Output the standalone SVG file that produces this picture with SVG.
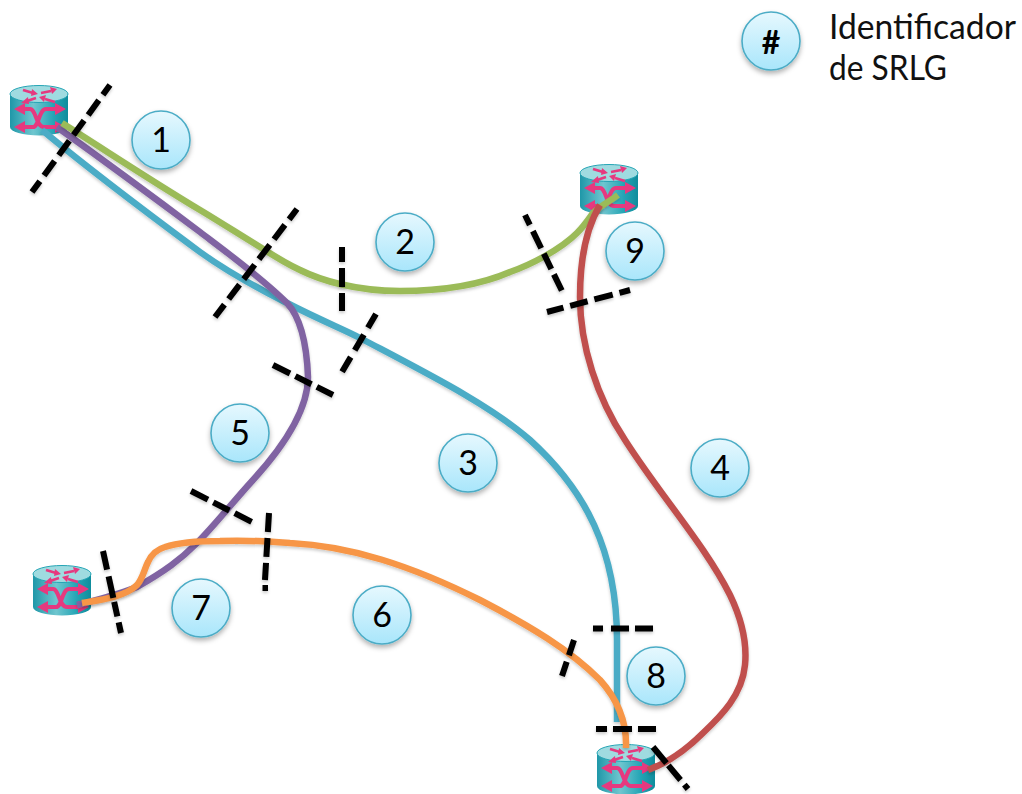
<svg xmlns="http://www.w3.org/2000/svg" xmlns:xlink="http://www.w3.org/1999/xlink" width="1022" height="794" viewBox="0 0 1022 794">
<style>
.lnk{fill:none;stroke-width:6.5;stroke-linecap:butt}
.cut{fill:none;stroke:#000;stroke-width:6}
.badge{fill:url(#bg);stroke:#4bacc6;stroke-width:1.6;filter:url(#sh)}
.num{font-family:"Lato","Open Sans",sans-serif;font-size:34px;fill:#000;text-anchor:middle}
.leg{font-family:"Lato","Open Sans",sans-serif;font-size:34px;fill:#111}
.ar{fill:#e6397f}
.as{fill:none;stroke:#e6397f;stroke-width:4}
.at{fill:none;stroke:#e6397f;stroke-width:2.6}
</style>
<defs>
<linearGradient id="bg" x1="0" y1="0" x2="0" y2="1"><stop offset="0" stop-color="#e6f8fe"/><stop offset="1" stop-color="#a9e6fb"/></linearGradient>
<linearGradient id="cyl" x1="0" y1="0" x2="1" y2="0"><stop offset="0" stop-color="#1f97a8"/><stop offset=".4" stop-color="#6fc6cf"/><stop offset=".75" stop-color="#25a5b5"/><stop offset="1" stop-color="#0f8c9c"/></linearGradient>
<filter id="sh" x="-20%" y="-20%" width="140%" height="140%"><feDropShadow dx="0" dy="3" stdDeviation="2.5" flood-color="#000" flood-opacity=".3"/></filter>
<filter id="ls" x="-5%" y="-5%" width="110%" height="110%"><feDropShadow dx="0" dy="2" stdDeviation="1.5" flood-color="#000" flood-opacity=".2"/></filter>
<g id="router">
<path d="M-29-16V17A29 8.5 0 0 0 29 17V-16Z" fill="url(#cyl)"/>
<ellipse cx="0" cy="-16" rx="29" ry="8.5" fill="#9fdbe0" stroke="#25a5b5"/>
<path class="at" d="M-16-20L-6-17M2-17L12-19M-3-12L-12-9M16-8L6-11"/>
<path class="ar" d="M-1-16L-7-21-8-14ZM18-21L11-23 13-16ZM-18-7L-11-13-10-6ZM0-13L7-15 5-8Z"/>
<path class="as" d="M-16-1H-9C-3-1-3 17 5 17H18M-16 17H-6C0 17 0-1 7-1H18"/>
<path class="ar" d="M-25-1l11-6v12zM27-1l-11-6v12zM-25 17l11-6v12zM27 17l-11-6v12z"/>
</g>
</defs>
<rect width="1022" height="794" fill="#fff"/>
<g id="r1"><use xlink:href="#router" href="#router" x="39" y="110"/></g>
<g id="r2"><use xlink:href="#router" href="#router" x="609" y="189"/></g>
<g id="r3"><use xlink:href="#router" href="#router" x="62" y="590"/></g>
<g id="r4"><use xlink:href="#router" href="#router" x="626" y="769"/></g>
<g id="connectors">
<path class="lnk" filter="url(#ls)" stroke="#4bacc6" d="M42 130C90 170 150 215 200 252C225 270 255 287 287 303C320 320 345 330 360 338C430 375 490 405 530 440C585 490 617 550 617 640V722"/>
<path class="lnk" filter="url(#ls)" stroke="#8064a2" d="M57 127C110 165 160 202 200 232C225 251 262 278 287 303C303 320 307 350 308 377C308 410 285 445 253 480C232 503 215 525 197 543C180 560 165 571 137 587C118 595 95 600 77 605"/>
<path class="lnk" filter="url(#ls)" stroke="#9bbb59" d="M62 123C105 150 150 180 200 210C225 225 240 235 260 247C274 256 287 264 300 270C320 280 355 291 400 291C440 291 480 285 510 272C530 265 560 250 577 233C585 225 590 217 593 213C600 206 610 201 618 195"/>
<path class="lnk" filter="url(#ls)" stroke="#c0504d" d="M600 205C585 230 580 262 580 297C580 345 597 398 625 440C660 495 705 545 730 595C742 620 747 645 745 665C742 695 722 715 703 733C688 748 670 762 648 770"/>
<path class="lnk" filter="url(#ls)" stroke="#f79646" d="M82 603C100 600 125 597 137 585C143 578 144 570 148 562C152 553 158 549 165 547C180 542 200 541 220 541C245 540 265 541 290 543C350 546 410 565 480 600C530 626 570 650 600 680C618 700 627 722 626 748"/>
<g id="cuts" filter="url(#ls)">
<path class="cut" stroke-dasharray="18 7" stroke-dashoffset="6" d="M110 85L32 192"/>
<path class="cut" stroke-dasharray="18 7" stroke-dashoffset="5" d="M297 209L215 317"/>
<path class="cut" stroke-dasharray="15 6 19 6 18" d="M342 247V311"/>
<path class="cut" stroke-dasharray="16 8 18 8 17" d="M376 314L342 372"/>
<path class="cut" stroke-dasharray="19 6 18 6 19" d="M273 365L333 395"/>
<path class="cut" stroke-dasharray="11 7 19 6 17 6 18" d="M525 215L562 291"/>
<path class="cut" stroke-dasharray="17 7 18 7 19 7 12" d="M547 312L630 290"/>
<path class="cut" stroke-dasharray="19 6 18 6 19" d="M191 491L252 522"/>
<path class="cut" stroke-dasharray="19 6 19 6 18" d="M269 513L265 580"/>
<path class="cut" stroke-width="1.5" d="M262.500 588H268"/>
<path class="cut" stroke-dasharray="19 7 22 4 15 6 11" d="M103 551L121 633"/>
<path class="cut" stroke-dasharray="16 7 15" d="M574 640L562 676"/>
<path class="cut" stroke-dasharray="10 8 18 6 18" d="M593 628.500H653"/>
<path class="cut" stroke-dasharray="11 6 19 6 18" d="M596 729H656"/>
<path class="cut" stroke-dasharray="21 3 19 6 7" d="M653 747L688 789"/>
</g>
</g>
<g id="b1"><circle class="badge" cx="161" cy="140" r="29"/><text class="num" x="161" y="152">1</text></g>
<g id="b2"><circle class="badge" cx="405" cy="242" r="29"/><text class="num" x="405" y="254">2</text></g>
<g id="b3"><circle class="badge" cx="468" cy="463" r="29"/><text class="num" x="468" y="475">3</text></g>
<g id="b4"><circle class="badge" cx="720" cy="468" r="29"/><text class="num" x="720" y="480">4</text></g>
<g id="b5"><circle class="badge" cx="240" cy="433" r="29"/><text class="num" x="240" y="445">5</text></g>
<g id="b6"><circle class="badge" cx="382" cy="615" r="29"/><text class="num" x="382" y="627">6</text></g>
<g id="b7"><circle class="badge" cx="201" cy="608" r="29"/><text class="num" x="201" y="620">7</text></g>
<g id="b8"><circle class="badge" cx="656" cy="676" r="29"/><text class="num" x="656" y="688">8</text></g>
<g id="b9"><circle class="badge" cx="635" cy="251" r="29"/><text class="num" x="635" y="263">9</text></g>
<g id="legend"><circle class="badge" cx="771" cy="41" r="29"/><text class="num" x="771" y="54" style="font-size:32px;font-weight:700">#</text>
<text class="leg" x="829" y="39" textLength="187" lengthAdjust="spacingAndGlyphs">Identificador</text><text class="leg" x="829" y="80" textLength="118" lengthAdjust="spacingAndGlyphs">de SRLG</text></g>
</svg>
